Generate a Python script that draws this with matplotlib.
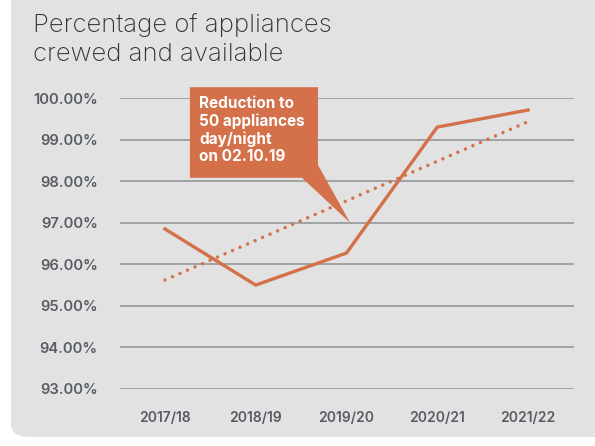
import numpy as np
import matplotlib
matplotlib.use("Agg")
import matplotlib.pyplot as plt
from matplotlib.patches import FancyBboxPatch, Polygon

plt.rcParams['font.family'] = ['Inter', 'DejaVu Sans']

years = ['2017/18', '2018/19', '2019/20', '2020/21', '2021/22']
crewed_pct = [96.85, 95.50, 96.27, 99.30, 99.71]
y_ticks = [93, 94, 95, 96, 97, 98, 99, 100]

orange = '#d4714a'
panel = '#e1e2e1'
tick_col = '#575b63'

fig = plt.figure(figsize=(5.95, 4.46), dpi=100)
fig.patch.set_facecolor('white')

# grey rounded card behind everything
card = FancyBboxPatch((11 / 595, 9 / 446), 1.1, 1.1,
                      boxstyle='round,pad=0,rounding_size=0.03',
                      transform=fig.transFigure, facecolor=panel,
                      edgecolor='none', zorder=-10)
fig.patches.append(card)

fig.text(33 / 595, 1 - 13 / 446, 'Percentage of appliances\ncrewed and available',
         fontsize=18.5, color='#333333', va='top', ha='left',
         linespacing=1.33, fontweight='light', zorder=1)

ax = fig.add_axes([120 / 595, 1 - 389 / 446, 454 / 595, 291 / 446])
ax.set_facecolor('none')

x = np.arange(len(years))
ax.plot(x, crewed_pct, color=orange, lw=2.4, solid_joinstyle='miter',
        clip_on=False, zorder=3)

# linear trend of the yearly values
slope, icpt = np.polyfit(x, crewed_pct, 1)
ax.plot(x, slope * x + icpt, color=orange, lw=2.5, ls=(0, (0.01, 2.35)),
        dash_capstyle='round', clip_on=False, zorder=3)

ax.set_xlim(-0.495, 4.507)
ax.set_ylim(93, 100)
ax.set_xticks(x)
ax.set_xticklabels(years)
ax.set_yticks(y_ticks)
ax.set_yticklabels([f'{v:.2f}%' for v in y_ticks])
ax.tick_params(length=0, labelcolor=tick_col, labelsize=10)
ax.tick_params(axis='y', labelsize=10.6, pad=16)
ax.tick_params(axis='x', pad=16)
for lab in ax.get_xticklabels() + ax.get_yticklabels():
    lab.set_fontweight('semibold')
ax.grid(axis='y', color='#9b9d9f', lw=1.3)
ax.set_axisbelow(True)
for s in ax.spines.values():
    s.set_visible(False)

# callout box pointing at the 2019/20 change
callout = Polygon([(0.275, 100.26), (1.686, 100.26), (1.686, 98.39),
                   (2.04, 97.0), (1.51, 98.08), (0.275, 98.08)],
                  closed=True, facecolor=orange, edgecolor='none',
                  clip_on=False, zorder=4)
ax.add_patch(callout)
ax.text(0.375, 100.04, 'Reduction to\n50 appliances\nday/night\non 02.10.19',
        color='white', fontsize=11, fontweight='bold', va='top', ha='left',
        linespacing=1.18, zorder=5)

fig.savefig('out.png', dpi=100)
